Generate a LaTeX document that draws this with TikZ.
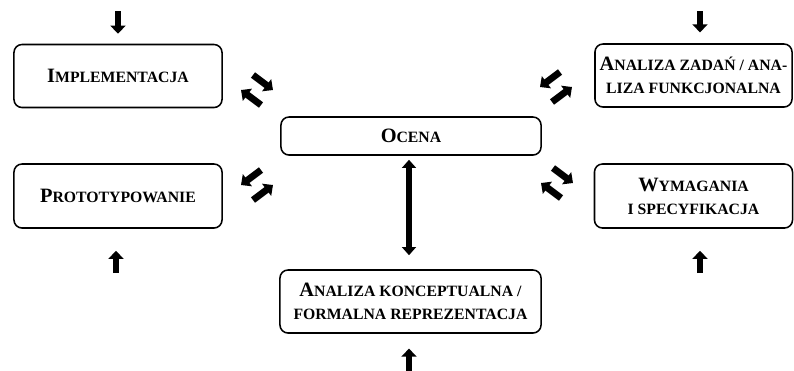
\documentclass[tikz,border=0pt]{standalone}
\usepackage{fontspec}
\setmainfont{Liberation Serif}
\usetikzlibrary{arrows.meta}

\newcommand{\Kap}[1]{{\fontsize{14.5}{16}\selectfont #1}}

\tikzset{
  etap/.style={draw, line width=1.1pt, rounded corners=0.2cm, align=center,
    font=\fontsize{11.2}{16.3}\selectfont\bfseries, inner sep=0pt},
  blk/.style={line width=0.17cm, -{Triangle[width=0.37cm,length=0.2cm]}},
  blkk/.style={line width=0.15cm,
    {Triangle[width=0.34cm,length=0.2cm]}-{Triangle[width=0.34cm,length=0.2cm]}},
}

\begin{document}
\begin{tikzpicture}[x=0.025cm,y=-0.025cm]
            \useasboundingbox (0,0) rectangle (794,370);
            % etapy
            \node[etap,minimum width=5.2cm,minimum height=1.575cm] (impl) at (118,76)
              {\Kap{I}MPLEMENTACJA};
            \node[etap,minimum width=5.2cm,minimum height=1.6cm] (proto) at (118,196)
              {\Kap{P}ROTOTYPOWANIE};
            \node[etap,minimum width=6.5cm,minimum height=0.95cm] (ocena) at (411,136)
              {\Kap{O}CENA};
            \node[etap,minimum width=4.925cm,minimum height=1.575cm] (zad) at (693.5,75.5)
              {\Kap{A}NALIZA ZADAŃ / ANA-\\LIZA FUNKCJONALNA};
            \node[etap,minimum width=4.95cm,minimum height=1.6cm] (wym) at (693.5,196)
              {\Kap{W}YMAGANIA\\I SPECYFIKACJA};
            \node[etap,minimum width=6.525cm,minimum height=1.575cm] (konc) at (410.5,301.5)
              {\Kap{A}NALIZA KONCEPTUALNA /\\FORMALNA REPREZENTACJA};
            % wejscia
            \coordinate (inImpl) at (118,11);
            \coordinate (inZad) at (700,11);
            \coordinate (inProto) at (116,273);
            \coordinate (inWym) at (700,273);
            \coordinate (inKonc) at (409,372);
            \draw[blk,shorten >=0.25cm] (inImpl) -- (impl.north);
            \draw[blk,shorten >=0.27cm] (inZad) -- (inZad |- zad.north);
            \draw[blk,shorten >=0.55cm] (inProto) -- (inProto |- proto.south);
            \draw[blk,shorten >=0.55cm] (inWym) -- (inWym |- wym.south);
            \draw[blk,shorten >=0.37cm] (inKonc) -- (inKonc |- konc.south);
            \draw[blkk,shorten <=0.1cm,shorten >=0.35cm] (inKonc |- ocena.south) -- (inKonc |- konc.north);
            % sprzezenia
            \coordinate (p1) at (257,90);
            \coordinate (p2) at (257,185);
            \coordinate (p3) at (556,87);
            \coordinate (p4) at (557,183);
            \draw[blk] (p1) ++(-4,-15) -- ++(20,15);
            \draw[blk] (p1) ++(4,15) -- ++(-20,-15);
            \draw[blk] (p4) ++(-4,-15) -- ++(20,15);
            \draw[blk] (p4) ++(4,15) -- ++(-20,-15);
            \draw[blk] (p2) ++(4,-15) -- ++(-20,15);
            \draw[blk] (p2) ++(-4,15) -- ++(20,-15);
            \draw[blk] (p3) ++(4,-15) -- ++(-20,15);
            \draw[blk] (p3) ++(-4,15) -- ++(20,-15);
\end{tikzpicture}
\end{document}
